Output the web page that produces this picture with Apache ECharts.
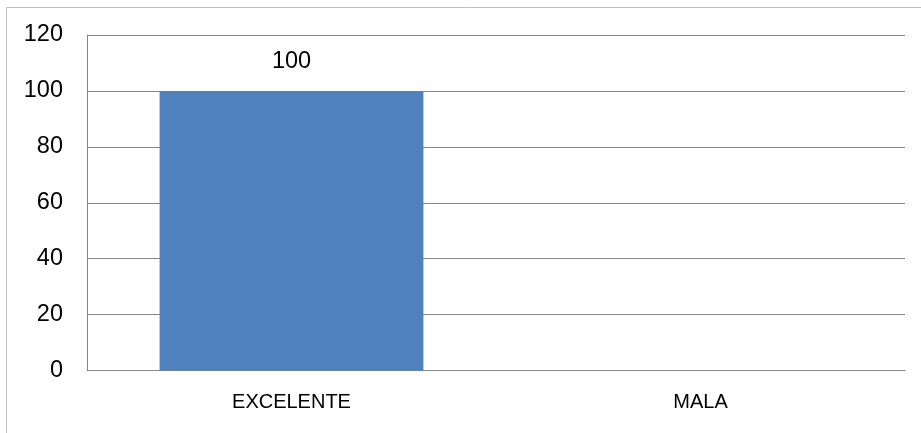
<!DOCTYPE html>
<html>
<head>
<meta charset="utf-8">
<script src="https://cdn.jsdelivr.net/npm/echarts@6/dist/echarts.min.js"></script>
<style>html,body{margin:0;padding:0;background:#fff}#c{width:921px;height:433px}</style>
</head>
<body>
<div id="c"></div>
<script>
var categories = ['EXCELENTE', 'MALA'];
var values = [100, null];
var yTicks = [0, 20, 40, 60, 80, 100, 120];

var chart = echarts.init(document.getElementById('c'), null, {renderer: 'canvas'});
var font = '"Liberation Sans", Arial, sans-serif';
chart.setOption({
  animation: false,
  graphic: [{
    type: 'rect', left: 4, top: 5,
    shape: {x: 0, y: 0, width: 940, height: 450},
    style: {fill: 'none', stroke: '#bfbfbf', lineWidth: 1}
  }],
  grid: {left: 87, right: 16, top: 35, bottom: 62.5, containLabel: false},
  xAxis: {
    type: 'category', data: categories,
    axisLine: {show: true, lineStyle: {color: '#868686', width: 1}},
    axisTick: {show: false},
    axisLabel: {color: '#000', fontFamily: font, fontSize: 20, margin: 22}
  },
  yAxis: {
    type: 'value', min: yTicks[0], max: yTicks[yTicks.length - 1], interval: 20,
    axisLine: {show: true, lineStyle: {color: '#868686', width: 1}},
    axisTick: {show: false},
    splitLine: {show: true, lineStyle: {color: '#868686', width: 1}},
    axisLabel: {color: '#000', fontFamily: font, fontSize: 23.5, margin: 24}
  },
  series: [{
    type: 'bar', data: values, barWidth: '64.5%',
    itemStyle: {color: '#4f81bd'},
    label: {show: true, position: 'top', distance: 17, color: '#000', fontFamily: font, fontSize: 23.5}
  }]
});
</script>
</body>
</html>
